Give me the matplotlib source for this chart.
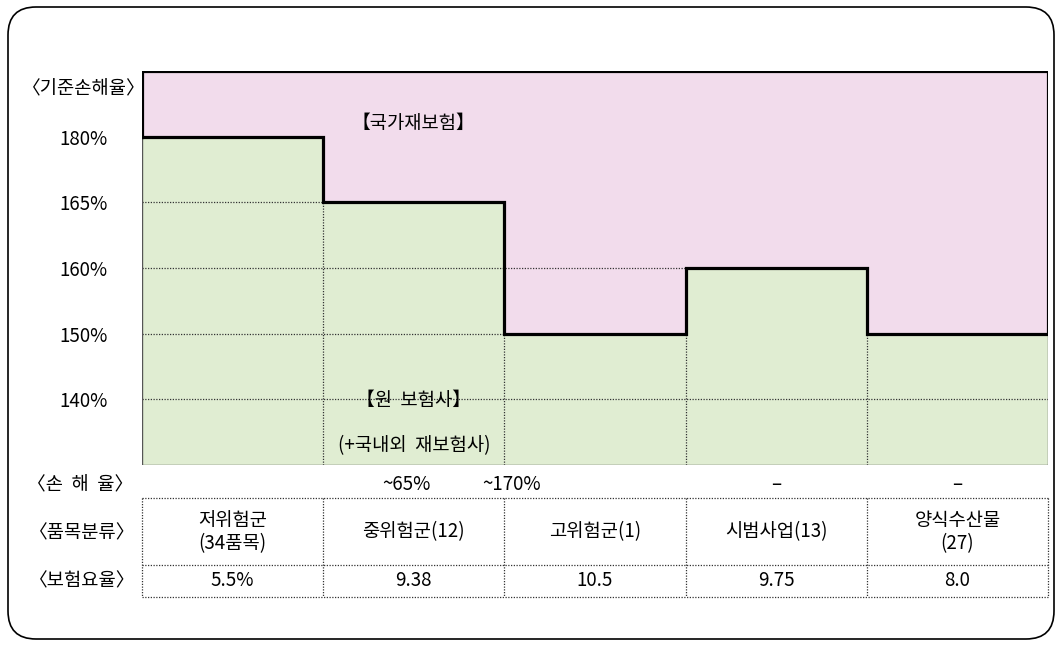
import numpy as np
import matplotlib
matplotlib.use("Agg")
import matplotlib.pyplot as plt
from matplotlib.patches import FancyBboxPatch

plt.rcParams['font.family'] = ['Noto Sans CJK KR', 'DejaVu Sans']
plt.rcParams['font.weight'] = 'light'
plt.rcParams['font.size'] = 13.5

# data
levels = ['140%', '150%', '160%', '165%', '180%']          # y levels, equally spaced
base_values = ['180%', '165%', '150%', '160%', '150%']     # 기준손해율 per group
groups = ['저위험군\n(34품목)', '중위험군(12)', '고위험군(1)', '시범사업(13)', '양식수산물\n(27)']
rates = ['5.5%', '9.38', '10.5', '9.75', '8.0']
loss_labels = ['~65%', '~170%', '–', '–']
loss_pos = [1.46, 2.04, 3.5, 4.5]

pink = '#F2DCEC'
green = '#E0EDD2'
grid_kw = dict(color='#333333', lw=0.9, ls=(0, (1, 1.2)))

W, H = 1062, 646
fig = plt.figure(figsize=(W / 100, H / 100), dpi=100)

# rounded frame
bg = fig.add_axes([0, 0, 1, 1])
bg.set_xlim(0, W)
bg.set_ylim(H, 0)
bg.axis('off')
bg.add_patch(FancyBboxPatch((8, 7), W - 16, H - 14,
                            boxstyle='round,pad=0,rounding_size=28',
                            fc='white', ec='black', lw=1.2))

# main step chart
ax = fig.add_axes([142 / W, (H - 465) / H, 906 / W, 394 / H])
ax.patch.set_alpha(0)
n = len(groups)
top = len(levels) + 1
vals = np.array([levels.index(v) + 1 for v in base_values])
edges = np.arange(n + 1)
xs = np.repeat(edges, 2)[1:-1]
ys = np.repeat(vals, 2)

ax.fill_between(xs, 0, ys, color=green, lw=0, zorder=1)
ax.fill_between(xs, ys, top, color=pink, lw=0, zorder=1)

# horizontal dotted grid up to where the step sits on that level
for i in range(1, len(levels)):
    hit = np.where(vals == i)[0]
    xend = hit[0] if len(hit) else n
    ax.plot([0, xend], [i, i], zorder=2, **grid_kw)
# vertical dotted lines between groups
for j in range(1, n):
    ax.plot([j, j], [0, min(vals[j - 1], vals[j])], zorder=2, **grid_kw)

# thin outline of green area
ax.plot([0, 0, n, n], [vals[0], 0, 0, vals[-1]], color='#555555', lw=1.0, zorder=3)
# thick outline of pink area
px = np.concatenate([[0, 0, n, n], xs[::-1]])
py = np.concatenate([[vals[0], top, top, vals[-1]], ys[::-1]])
ax.plot(px, py, color='black', lw=2.3, zorder=4, solid_joinstyle='miter')

ax.set_xlim(0, n)
ax.set_ylim(0, top)
for s in ax.spines.values():
    s.set_visible(False)
ax.set_xticks([])
ax.set_yticks(range(1, len(levels) + 1), levels)
ax.tick_params(axis='y', length=0, pad=42, labelsize=13.5)
for t in ax.get_yticklabels():
    t.set_ha('center')

ax.text(-0.32, top - 0.28, '〈기준손해율〉', ha='center', va='center',
        transform=ax.transData, clip_on=False)
ax.text(1.5, 5.2, '【국가재보험】', ha='center', va='center')
ax.text(1.5, 0.99, '【원  보험사】', ha='center', va='center')
ax.text(1.5, 0.30, '(+국내외  재보험사)', ha='center', va='center')

# loss ratio row
for x, lab in zip(loss_pos, loss_labels):
    ax.text(x, -0.30, lab, ha='center', va='center', clip_on=False)

# table
tb = fig.add_axes([142 / W, (H - 597) / H, 906 / W, 99 / H])
tb.set_xlim(0, n)
tb.set_ylim(99, 0)
tb.axis('off')
for y in [0, 67, 99]:
    tb.plot([0, n], [y, y], clip_on=False, **grid_kw)
for x in range(n + 1):
    tb.plot([x, x], [0, 99], clip_on=False, **grid_kw)
for i, (g, r) in enumerate(zip(groups, rates)):
    tb.text(i + 0.5, 34, g, ha='center', va='center', linespacing=1.15)
    tb.text(i + 0.5, 83, r, ha='center', va='center')

fig.text(80 / W, 1 - 485 / H, '〈손  해  율〉', ha='center', va='center')
fig.text(82 / W, 1 - 533 / H, '〈품목분류〉', ha='center', va='center')
fig.text(82 / W, 1 - 581 / H, '〈보험요율〉', ha='center', va='center')

fig.savefig('out.png', dpi=100)
